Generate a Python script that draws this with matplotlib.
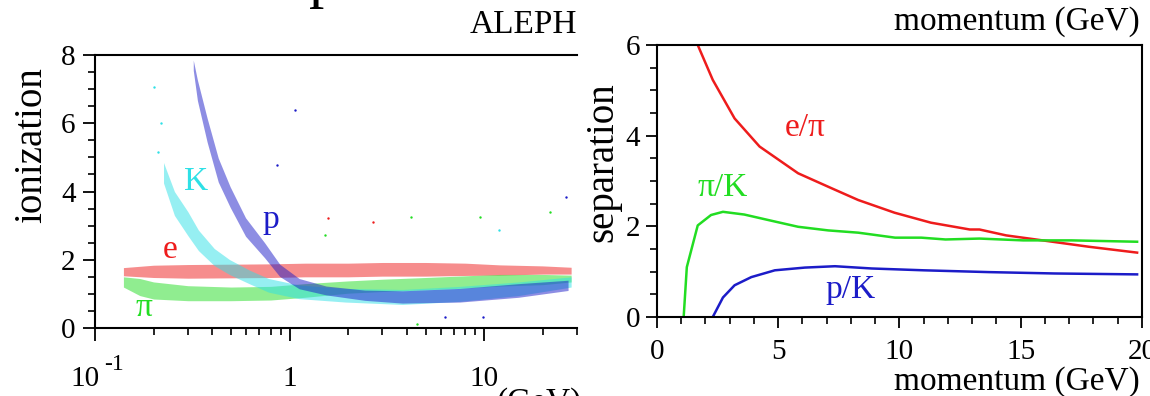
import matplotlib
matplotlib.use("Agg")
import matplotlib.pyplot as plt
from matplotlib.ticker import MultipleLocator, LogLocator, NullFormatter

plt.rcParams["font.family"] = ["Liberation Serif", "DejaVu Serif"]

# ---- left panel: ionization bands (momentum GeV, centre, vertical half width) ----
p_e = [0.14, 0.2, 0.3, 0.5, 0.8, 1.2, 2, 3, 5, 8, 12, 20, 28]
e_mid = [1.65, 1.66, 1.66, 1.67, 1.68, 1.70, 1.70, 1.72, 1.72, 1.72, 1.70, 1.70, 1.68]
e_half = [0.12, 0.18, 0.2, 0.2, 0.2, 0.2, 0.2, 0.2, 0.2, 0.18, 0.15, 0.12, 0.1]

p_pi = [0.14, 0.17, 0.2, 0.3, 0.5, 0.8, 1.2, 2, 3, 5, 8, 12, 20, 28]
pi_mid = [1.35, 1.2, 1.1, 1.02, 1.0, 1.02, 1.1, 1.2, 1.25, 1.3, 1.35, 1.4, 1.42, 1.45]
pi_half = [0.15, 0.25, 0.25, 0.22, 0.2, 0.2, 0.2, 0.18, 0.18, 0.18, 0.18, 0.17, 0.15, 0.1]

p_k = [0.225, 0.256, 0.30, 0.34, 0.41, 0.49, 0.62, 0.78, 1.12, 1.94, 3.8, 7.5, 15, 28]
k_mid = [4.55, 3.65, 3.06, 2.57, 2.08, 1.79, 1.5, 1.25, 1.06, 0.96, 0.91, 1.0, 1.15, 1.35]
k_half = [0.3, 0.35, 0.35, 0.3, 0.25, 0.22, 0.2, 0.2, 0.2, 0.2, 0.22, 0.22, 0.2, 0.15]

p_p = [0.32, 0.336, 0.377, 0.43, 0.495, 0.594, 0.744, 0.89, 1.12, 1.54, 2.44, 3.8, 7.5, 15, 27]
p_mid = [7.7, 6.97, 5.8, 4.63, 3.84, 2.96, 2.28, 1.69, 1.3, 1.1, 0.96, 0.91, 0.96, 1.1, 1.25]
p_half = [0.15, 0.3, 0.35, 0.35, 0.3, 0.27, 0.22, 0.18, 0.15, 0.13, 0.15, 0.18, 0.2, 0.2, 0.15]

# a few stray hits
out_red = ([1.57, 2.7], [3.21, 3.1])
out_green = ([1.53, 21.9, 9.5, 4.2, 4.5], [2.72, 3.4, 3.26, 3.26, 0.13])
out_cyan = ([0.2, 0.218, 0.212, 11.9], [7.07, 6.0, 5.16, 2.87])
out_blue = ([1.07, 0.86, 26.4, 6.3, 9.9], [6.39, 4.77, 3.84, 0.32, 0.32])

# ---- right panel: separation curves ----
mom_epi = [1.68, 2.30, 3.2, 4.23, 5.82, 7.2, 8.3, 9.8, 11.3, 12.9, 13.3, 14.4, 15.9, 17.8, 19.8]
sep_epi = [6.0, 5.23, 4.38, 3.76, 3.17, 2.84, 2.58, 2.30, 2.08, 1.93, 1.93, 1.80, 1.69, 1.55, 1.42]

mom_pik = [1.10, 1.23, 1.68, 2.23, 2.72, 3.6, 4.58, 5.82, 7.06, 8.3, 9.82, 10.9, 11.9, 13.3, 15.1, 17.1, 19.8]
sep_pik = [0.0, 1.10, 2.02, 2.25, 2.32, 2.26, 2.14, 1.99, 1.91, 1.86, 1.75, 1.75, 1.71, 1.73, 1.69, 1.69, 1.66]

mom_pk = [2.30, 2.72, 3.2, 3.89, 4.86, 6.1, 7.34, 8.86, 11.0, 13.7, 16.4, 19.8]
sep_pk = [0.0, 0.43, 0.70, 0.88, 1.03, 1.09, 1.12, 1.07, 1.03, 0.99, 0.96, 0.94]

red, green, cyan, blue = "#ee1c1c", "#22dd22", "#2ee0e6", "#1c1cc8"

fig = plt.figure(figsize=(11.5, 3.96), dpi=100)
ax1 = fig.add_axes([0.0826, 0.1717, 0.4191, 0.6894])
ax2 = fig.add_axes([0.5713, 0.1995, 0.4217, 0.6869])

# left
for p, m, h, c in [(p_e, e_mid, e_half, red), (p_pi, pi_mid, pi_half, green),
                   (p_k, k_mid, k_half, cyan), (p_p, p_mid, p_half, blue)]:
    lo = [a - b for a, b in zip(m, h)]
    hi = [a + b for a, b in zip(m, h)]
    ax1.fill_between(p, lo, hi, color=c, alpha=0.5, lw=0)
for (xs, ys), c in [(out_red, red), (out_green, green), (out_cyan, cyan), (out_blue, blue)]:
    ax1.scatter(xs, ys, s=3, color=c, lw=0)

ax1.set_xscale("log")
ax1.set_xlim(0.1, 30)
ax1.set_ylim(0, 8)
ax1.set_xticks([0.1, 1, 10])
ax1.set_xticklabels(["", "1", "10"])
ax1.xaxis.set_minor_locator(LogLocator(subs=range(2, 10)))
ax1.xaxis.set_minor_formatter(NullFormatter())
ax1.yaxis.set_major_locator(MultipleLocator(2))
ax1.yaxis.set_minor_locator(MultipleLocator(0.5))
ax1.spines["right"].set_visible(False)
ax1.tick_params(axis="x", which="major", length=9, width=1.3, labelsize=21, pad=18)
ax1.tick_params(axis="y", which="major", length=9, width=1.3, labelsize=21, pad=5)
ax1.tick_params(which="minor", length=5, width=1.2)
# 10^-1 label drawn in two pieces, like the original
ax1.annotate("10", xy=(0.1, 0), xytext=(-7.5, -27), textcoords="offset points",
             ha="center", va="top", fontsize=21)
ax1.annotate("-1", xy=(0.1, 0), xytext=(14, -26), textcoords="offset points",
             ha="center", va="center", fontsize=17)
for s in ax1.spines.values():
    s.set_linewidth(1.5)

ax1.text(0.33, 4.28, "K", color=cyan, fontsize=24, ha="center", va="center")
ax1.text(0.80, 3.17, "p", color=blue, fontsize=24, ha="center", va="center")
ax1.text(0.244, 2.28, "e", color=red, fontsize=24, ha="center", va="center")
ax1.text(0.178, 0.58, "π", color=green, fontsize=24, ha="center", va="center")

# right
ax2.plot(mom_epi, sep_epi, color=red, lw=1.8)
ax2.plot(mom_pik, sep_pik, color=green, lw=1.8)
ax2.plot(mom_pk, sep_pk, color=blue, lw=1.8)
ax2.set_xlim(0, 20)
ax2.set_ylim(0, 6)
ax2.xaxis.set_major_locator(MultipleLocator(5))
ax2.xaxis.set_minor_locator(MultipleLocator(1))
ax2.yaxis.set_major_locator(MultipleLocator(2))
ax2.yaxis.set_minor_locator(MultipleLocator(0.5))
ax2.tick_params(axis="x", which="major", length=8, width=1.3, labelsize=21, pad=8)
ax2.tick_params(axis="y", which="major", length=8, width=1.3, labelsize=21, pad=4)
ax2.tick_params(which="minor", length=5, width=1.2)
for s in ax2.spines.values():
    s.set_linewidth(1.5)

ax2.text(6.1, 4.17, "e/π", color=red, fontsize=24, ha="center", va="center")
ax2.text(2.7, 2.85, "π/K", color=green, fontsize=24, ha="center", va="center")
ax2.text(8.0, 0.6, "p/K", color=blue, fontsize=24, ha="center", va="center")

# labels and stray slide text
fig.text(32 / 1150, 1 - 145 / 396, "ionization", rotation=90, ha="center", va="center", fontsize=28)
fig.text(603 / 1150, 1 - 162 / 396, "separation", rotation=90, ha="center", va="center", fontsize=28)
fig.text(577 / 1150, 1 - 25 / 396, "ALEPH", ha="right", va="center", fontsize=24)
fig.text(1140 / 1150, 1 - 22 / 396, "momentum (GeV)", ha="right", va="center", fontsize=24)
fig.text(1140 / 1150, 1 - 382 / 396, "momentum (GeV)", ha="right", va="center", fontsize=24)
fig.text(497 / 1150, 1 - 387 / 396, "(GeV)", ha="left", va="top", fontsize=24)
fig.text(324 / 1150, 1 + 4 / 396, "p", ha="center", va="baseline", fontsize=44)

fig.savefig("out.png", dpi=100)
